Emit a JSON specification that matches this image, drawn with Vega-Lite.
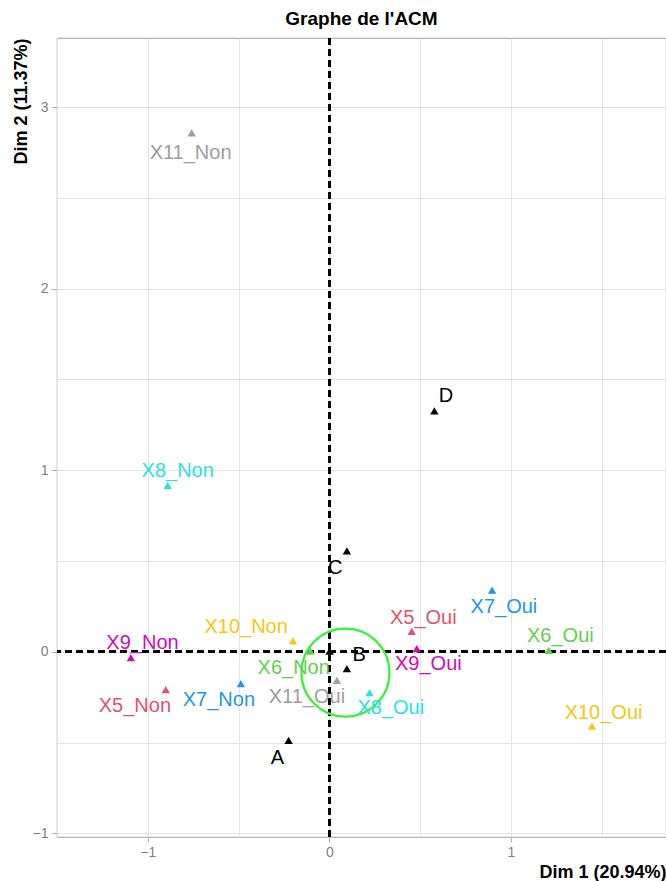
{
  "$schema": "https://vega.github.io/schema/vega-lite/v6.json",
  "autosize": {"type": "none"},
  "padding": {"left": 57, "top": 38, "right": 0, "bottom": 44},
  "width": 609,
  "height": 799,
  "background": "white",
  "config": {
    "font": "Liberation Sans",
    "view": {"stroke": "#b3b3b3", "strokeWidth": 1.2},
    "axis": {"domain": false}
  },
  "title": {"text": "Graphe de l'ACM", "fontSize": 19, "fontWeight": "bold", "color": "black", "anchor": "middle", "offset": 8},
  "data": {
    "values": [
      {"name": "A", "grp": "ind", "x": -0.224, "y": -0.488, "lx": -0.286, "ly": -0.587},
      {"name": "B", "grp": "ind", "x": 0.097, "y": -0.093, "lx": 0.165, "ly": -0.019},
      {"name": "C", "grp": "ind", "x": 0.097, "y": 0.555, "lx": 0.033, "ly": 0.46},
      {"name": "D", "grp": "ind", "x": 0.579, "y": 1.327, "lx": 0.643, "ly": 1.408},
      {"name": "", "grp": "ind", "x": 0.002, "y": 0.003, "lx": 0.002, "ly": 0.1},
      {"name": "X5_Non", "grp": "X5", "x": -0.901, "y": -0.208, "lx": -1.071, "ly": -0.3},
      {"name": "X5_Oui", "grp": "X5", "x": 0.454, "y": 0.113, "lx": 0.518, "ly": 0.188},
      {"name": "X6_Non", "grp": "X6", "x": -0.104, "y": 0.004, "lx": -0.196, "ly": -0.087},
      {"name": "X6_Oui", "grp": "X6", "x": 1.209, "y": 0.008, "lx": 1.273, "ly": 0.085},
      {"name": "X7_Non", "grp": "X7", "x": -0.487, "y": -0.175, "lx": -0.608, "ly": -0.267},
      {"name": "X7_Oui", "grp": "X7", "x": 0.897, "y": 0.339, "lx": 0.962, "ly": 0.247},
      {"name": "X8_Non", "grp": "X8", "x": -0.89, "y": 0.917, "lx": -0.835, "ly": 0.994},
      {"name": "X8_Oui", "grp": "X8", "x": 0.222, "y": -0.225, "lx": 0.339, "ly": -0.311},
      {"name": "X9_Non", "grp": "X9", "x": -1.093, "y": -0.032, "lx": -1.029, "ly": 0.048},
      {"name": "X9_Oui", "grp": "X9", "x": 0.482, "y": 0.018, "lx": 0.546, "ly": -0.07},
      {"name": "X10_Non", "grp": "X10", "x": -0.2, "y": 0.06, "lx": -0.458, "ly": 0.137},
      {"name": "X10_Oui", "grp": "X10", "x": 1.447, "y": -0.41, "lx": 1.511, "ly": -0.337},
      {"name": "X11_Non", "grp": "X11", "x": -0.758, "y": 2.857, "lx": -0.764, "ly": 2.747},
      {"name": "X11_Oui", "grp": "X11", "x": 0.042, "y": -0.157, "lx": -0.123, "ly": -0.249}
    ]
  },
  "layer": [
    {
      "mark": {"type": "rule", "strokeDash": [7, 4], "strokeWidth": 2, "color": "black"},
      "encoding": {
        "x": {
          "datum": 0, "type": "quantitative",
          "scale": {"domain": [-1.5, 1.855], "nice": false, "zero": false},
          "axis": {
            "grid": true,
            "values": [-1.5, -1, -0.5, 0, 0.5, 1, 1.5],
            "title": "Dim 1 (20.94%)",
            "titleFontSize": 18, "titleFontWeight": "bold", "titleColor": "black",
            "titleAlign": "right", "titleAnchor": "end", "titleX": 609, "titleY": 40, "titleBaseline": "alphabetic",
            "labelExpr": "datum.value % 1 == 0 ? format(datum.value, 'd') : ''",
            "labelFontSize": 14, "labelColor": "#7f7f7f", "labelPadding": 3,
            "tickColor": "#b3b3b3", "tickSize": 5,
            "tickOpacity": {"condition": {"test": "datum.value % 1 != 0", "value": 0}, "value": 1},
            "gridColor": "#e3e3e3", "gridWidth": 1, "gridOpacity": 1
          }
        }
      }
    },
    {
      "mark": {"type": "rule", "strokeDash": [7, 4], "strokeWidth": 2, "color": "black"},
      "encoding": {
        "y": {
          "datum": 0, "type": "quantitative",
          "scale": {"domain": [-1.02, 3.38], "nice": false, "zero": false},
          "axis": {
            "grid": true,
            "values": [-1, -0.5, 0, 0.5, 1, 1.5, 2, 2.5, 3],
            "title": "Dim 2 (11.37%)",
            "titleFontSize": 18, "titleFontWeight": "bold", "titleColor": "black",
            "titleAngle": 270, "titleAlign": "right", "titleAnchor": "end", "titleX": -31, "titleY": 0, "titleBaseline": "alphabetic",
            "labelExpr": "datum.value % 1 == 0 ? format(datum.value, 'd') : ''",
            "labelFontSize": 14, "labelColor": "#7f7f7f", "labelPadding": 3,
            "tickColor": "#b3b3b3", "tickSize": 6,
            "tickOpacity": {"condition": {"test": "datum.value % 1 != 0", "value": 0}, "value": 1},
            "gridColor": "#e3e3e3", "gridWidth": 1, "gridOpacity": 1
          }
        }
      }
    },
    {
      "transform": [{"filter": "datum.name == 'B'"}],
      "mark": {"type": "point", "shape": "circle", "filled": false, "stroke": "#3ef03e", "strokeWidth": 2.2, "size": 7744, "opacity": 1},
      "encoding": {
        "x": {"datum": 0.089, "type": "quantitative"},
        "y": {"datum": -0.115, "type": "quantitative"}
      }
    },
    {
      "mark": {"type": "point", "shape": "triangle-up", "filled": true, "size": 70, "opacity": 1},
      "encoding": {
        "x": {"field": "x", "type": "quantitative"},
        "y": {"field": "y", "type": "quantitative"},
        "color": {
          "field": "grp", "type": "nominal", "legend": null,
          "scale": {
            "domain": ["ind", "X5", "X6", "X7", "X8", "X9", "X10", "X11"],
            "range": ["#000000", "#DF536B", "#61D04F", "#2297E6", "#28E2E5", "#CD0BBC", "#F5C710", "#9E9E9E"]
          }
        }
      }
    },
    {
      "mark": {"type": "text", "fontSize": 20, "align": "center", "baseline": "middle"},
      "encoding": {
        "x": {"field": "lx", "type": "quantitative"},
        "y": {"field": "ly", "type": "quantitative"},
        "text": {"field": "name"},
        "color": {"field": "grp", "type": "nominal", "legend": null}
      }
    }
  ]
}
